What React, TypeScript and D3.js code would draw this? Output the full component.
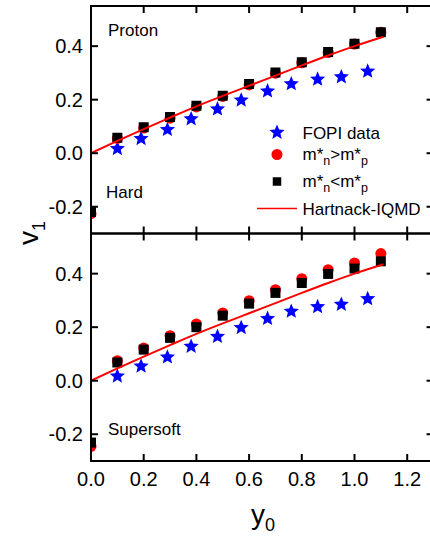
import React from "react";
import * as d3 from "d3";

// ---- data ----
const simX = [0, 0.1, 0.2, 0.3, 0.4, 0.5, 0.6, 0.7, 0.8, 0.9, 1.0, 1.1];
const fopiX = [0.1, 0.19, 0.29, 0.38, 0.48, 0.57, 0.67, 0.76, 0.86, 0.95, 1.05];
const fopiV = [0.017, 0.054, 0.088, 0.128, 0.165, 0.198, 0.232, 0.259, 0.276, 0.285, 0.306];
const hardGt = [-0.226, 0.055, 0.094, 0.131, 0.173, 0.212, 0.255, 0.299, 0.338, 0.376, 0.408, 0.452];
const hardLt = [-0.22, 0.058, 0.097, 0.135, 0.177, 0.215, 0.259, 0.302, 0.34, 0.378, 0.409, 0.452];
const softGt = [-0.245, 0.075, 0.122, 0.168, 0.212, 0.253, 0.299, 0.34, 0.381, 0.415, 0.44, 0.475];
const softLt = [-0.231, 0.068, 0.116, 0.16, 0.2, 0.243, 0.288, 0.328, 0.365, 0.399, 0.419, 0.446];
const lineX = [0, 0.1, 0.2, 0.3, 0.4, 0.5, 0.6, 0.7, 0.8, 0.9, 1.0, 1.11];
const lineV = [0, 0.046, 0.09, 0.133, 0.175, 0.214, 0.252, 0.29, 0.328, 0.365, 0.4, 0.435];
const xTicks = [0, 0.2, 0.4, 0.6, 0.8, 1.0, 1.2];
const yTicks = [-0.2, 0.0, 0.2, 0.4];
const panelLabels = ["Hard", "Supersoft"];

const FONT = "'Liberation Sans', Arial, Helvetica, sans-serif";
const left = 91;
const x = d3.scaleLinear().domain([0, 1.3]).range([left, left + 1.3 * 263.5]);
const right = x(1.3);

// fat 5-point star
function star(outer: number, inner: number) {
  const pts: [number, number][] = [];
  for (let k = 0; k < 10; k++) {
    const r = k % 2 === 0 ? outer : inner;
    const a = -Math.PI / 2 + (k * Math.PI) / 5;
    pts.push([r * Math.cos(a), r * Math.sin(a)]);
  }
  return (d3.line()(pts) as string) + "Z";
}
const starPath = star(8, 3.6);
const sqPath = d3.symbol(d3.symbolSquare, 100)() as string;
const circPath = d3.symbol(d3.symbolCircle, 95)() as string;
const TL = 7;

function Panel({ id, top, bottom, gt, lt, label, showProton, showXLabels }: any) {
  const y = d3.scaleLinear().domain([-0.3, 0.55]).range([bottom, top]);
  const line = d3
    .line<number>()
    .x((_, i) => x(lineX[i]))
    .y((d) => y(d))
    .curve(d3.curveMonotoneX);
  return (
    <g>
      <defs>
        <clipPath id={id}>
          <rect x={left} y={top} width={right - left} height={bottom - top} />
        </clipPath>
      </defs>
      <g clipPath={`url(#${id})`}>
        {fopiX.map((xv, i) => (
          <path key={"s" + i} d={starPath} fill="#0000ff" transform={`translate(${x(xv)},${y(fopiV[i])})`} />
        ))}
        {simX.map((xv, i) => (
          <path key={"c" + i} d={circPath} fill="#ff0000" transform={`translate(${x(xv)},${y(gt[i])})`} />
        ))}
        {simX.map((xv, i) => (
          <path key={"q" + i} d={sqPath} fill="#000000" transform={`translate(${x(xv)},${y(lt[i])})`} />
        ))}
        <path d={line(lineV) as string} fill="none" stroke="#ff0000" strokeWidth={2} />
      </g>
      <rect x={left} y={top} width={right - left} height={bottom - top} fill="none" stroke="#000" strokeWidth={2} />
      {xTicks.map((t) => (
        <g key={"xt" + t}>
          <line x1={x(t)} x2={x(t)} y1={bottom} y2={bottom - TL} stroke="#000" strokeWidth={2} />
          <line x1={x(t)} x2={x(t)} y1={top} y2={top + TL} stroke="#000" strokeWidth={2} />
          {showXLabels && (
            <text x={x(t)} y={486} textAnchor="middle" fontSize={20} fontFamily={FONT}>
              {t.toFixed(1)}
            </text>
          )}
        </g>
      ))}
      {yTicks.map((t) => (
        <g key={"yt" + t}>
          <line x1={left} x2={left + TL} y1={y(t)} y2={y(t)} stroke="#000" strokeWidth={2} />
          <line x1={right} x2={right - TL} y1={y(t)} y2={y(t)} stroke="#000" strokeWidth={2} />
          <text x={83} y={y(t)} dy="0.36em" textAnchor="end" fontSize={20} fontFamily={FONT}>
            {t.toFixed(1)}
          </text>
        </g>
      ))}
      {showProton && (
        <text x={108} y={top + 30} fontSize={17} fontFamily={FONT}>
          Proton
        </text>
      )}
      <text x={label === "Hard" ? 106 : 108} y={label === "Hard" ? 198 : 435} fontSize={17} fontFamily={FONT}>
        {label}
      </text>
    </g>
  );
}

export default function App() {
  const lx = 277;
  const tx = 302.5;
  const fs = 17;
  return (
    <svg width={430} height={538} style={{ position: "absolute", left: 0, top: 0, background: "#fff" }}>
      <rect width={430} height={538} fill="#fff" />
      <Panel id="clipTop" top={6} bottom={233.5} gt={hardGt} lt={hardLt} label={panelLabels[0]} showProton />
      <Panel id="clipBot" top={233.5} bottom={461} gt={softGt} lt={softLt} label={panelLabels[1]} showXLabels />
      {/* legend */}
      <g fontFamily={FONT} fontSize={fs}>
        <path d={starPath} fill="#0000ff" transform={`translate(${lx},132.5)`} />
        <text x={tx} y={138.5}>FOPI data</text>
        <path d={circPath} fill="#ff0000" transform={`translate(${lx},154.5)`} />
        <text x={tx} y={160}>
          m*<tspan fontSize={12.5} dy={5}>n</tspan>
          <tspan dy={-5}>&gt;m*</tspan>
          <tspan fontSize={12.5} dy={5}>p</tspan>
        </text>
        <path d={sqPath} fill="#000" transform={`translate(${lx},181.5) scale(0.85)`} />
        <text x={tx} y={187}>
          m*<tspan fontSize={12.5} dy={5}>n</tspan>
          <tspan dy={-5}>&lt;m*</tspan>
          <tspan fontSize={12.5} dy={5}>p</tspan>
        </text>
        <line x1={257} x2={297} y1={208.5} y2={208.5} stroke="#ff0000" strokeWidth={1.5} />
        <text x={tx} y={214.5}>Hartnack-IQMD</text>
      </g>
      {/* axis titles */}
      <text x={251} y={524} fontSize={28} fontFamily={FONT}>
        y<tspan fontSize={18} dy={7}>0</tspan>
      </text>
      <text transform="translate(38,245) rotate(-90)" fontSize={28} fontFamily={FONT}>
        v<tspan fontSize={18} dy={7}>1</tspan>
      </text>
    </svg>
  );
}
